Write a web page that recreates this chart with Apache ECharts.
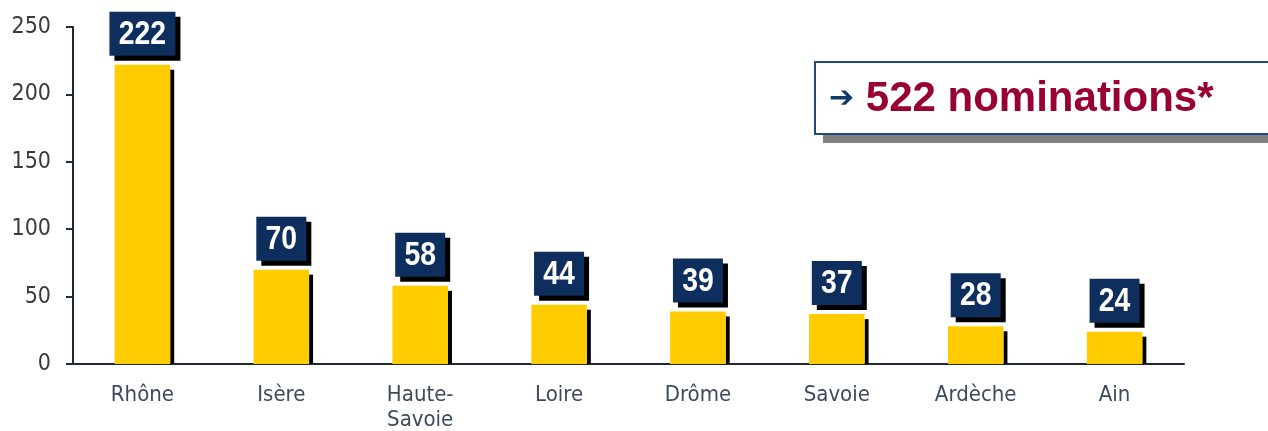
<!DOCTYPE html>
<html lang="fr">
<head>
    <meta charset="UTF-8">
    <title>Nominations par département</title>
    <style>
        html, body { margin: 0; padding: 0; background: #fff; }
    </style>
</head>
<body>
    <div id="chart" style="width:1268px; height:431px"></div>

    <script src="https://cdn.jsdelivr.net/npm/echarts@6/dist/echarts.min.js"></script>
    <script>
        // données
        const departements = ['Rhône', 'Isère', 'Haute-\nSavoie', 'Loire', 'Drôme', 'Savoie', 'Ardèche', 'Ain'];
        const nominations = [222, 70, 58, 44, 39, 37, 28, 24];
        const yTicks = [0, 50, 100, 150, 200, 250];

        const chart = echarts.init(document.querySelector('#chart'));

        // barre jaune + ombre noire + étiquette bleue
        const renderBar = (params, api) => {
            const v = api.value(1);
            const top = api.coord([api.value(0), v]);
            const base = api.coord([api.value(0), 0]);
            const bw = api.size([1, 0])[0] * 0.4;
            const x = top[0] - bw / 2;
            const txt = String(v);
            const boxW = txt.length * 16 + 18, boxH = 44;
            const boxY = top[1] - 9 - boxH;
            return {
                type: 'group',
                children: [
                    {
                        type: 'rect',
                        shape: { x: x + bw, y: top[1] + 5, width: 4, height: base[1] - top[1] - 5 },
                        style: { fill: '#000' }
                    },
                    {
                        type: 'rect',
                        shape: { x: x, y: top[1], width: bw, height: base[1] - top[1] },
                        style: { fill: '#ffcc00' }
                    },
                    {
                        type: 'rect',
                        shape: { x: top[0] - boxW / 2 + 5, y: boxY + 5, width: boxW, height: boxH },
                        style: { fill: '#000' }
                    },
                    {
                        type: 'rect',
                        shape: { x: top[0] - boxW / 2, y: boxY, width: boxW, height: boxH },
                        style: { fill: '#0e2f5e' }
                    },
                    {
                        type: 'text',
                        x: top[0],
                        y: boxY + boxH / 2 + 1,
                        scaleX: 0.86,
                        style: {
                            text: txt,
                            fill: '#fff',
                            font: 'bold 33px "Liberation Sans", Arial',
                            align: 'center',
                            verticalAlign: 'middle'
                        }
                    }
                ]
            };
        };

        chart.setOption({
            animation: false,
            grid: { left: 73, right: 84, top: 27, bottom: 67, containLabel: false, outerBoundsMode: 'none' },
            xAxis: {
                type: 'category',
                data: departements,
                axisLine: { lineStyle: { color: '#1c2a3a', width: 2 } },
                axisTick: { length: 7, lineStyle: { color: '#1c2a3a', width: 2 } },
                axisLabel: {
                    margin: 19,
                    color: '#3d4a5c',
                    fontFamily: '"DejaVu Sans Condensed", "DejaVu Sans"',
                    fontSize: 22,
                    lineHeight: 25,
                    interval: 0
                }
            },
            yAxis: {
                type: 'value',
                min: yTicks[0],
                max: yTicks[yTicks.length - 1],
                interval: 50,
                splitLine: { show: false },
                axisLine: { show: true, lineStyle: { color: '#1c2a3a', width: 2 } },
                axisTick: { show: true, length: 7, lineStyle: { color: '#1c2a3a', width: 2 } },
                axisLabel: {
                    margin: 22,
                    color: '#3a3a3a',
                    fontFamily: '"DejaVu Sans Condensed", "DejaVu Sans"',
                    fontSize: 23
                }
            },
            graphic: [
                {
                    type: 'rect',
                    shape: { x: 823, y: 70, width: 460, height: 73 },
                    style: { fill: '#808080' }
                },
                {
                    type: 'rect',
                    shape: { x: 815, y: 62, width: 470, height: 72 },
                    style: { fill: '#fff', stroke: '#1f4a7a', lineWidth: 2 }
                },
                {
                    type: 'text',
                    x: 829,
                    y: 99,
                    style: {
                        text: '{a|➔}{b| 522 nominations*}',
                        verticalAlign: 'middle',
                        rich: {
                            a: { fill: '#13386b', font: 'bold 30px "DejaVu Sans"' },
                            b: { fill: '#990033', font: 'bold 42px "Liberation Sans", Arial' }
                        }
                    }
                }
            ],
            series: [{
                type: 'custom',
                renderItem: renderBar,
                data: nominations.map((n, i) => [i, n])
            }]
        });
    </script>
</body>
</html>
